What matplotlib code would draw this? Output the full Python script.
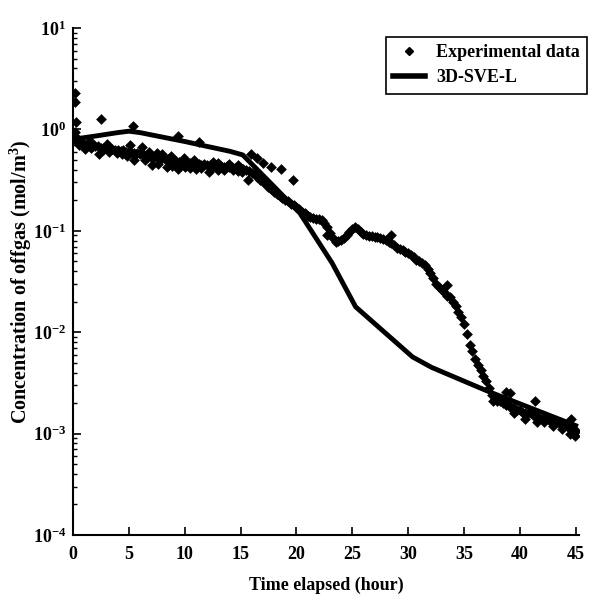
import numpy as np
import matplotlib
matplotlib.use("Agg")
import matplotlib.pyplot as plt
from matplotlib.lines import Line2D

plt.rcParams['font.family'] = ['Liberation Serif', 'DejaVu Serif']
plt.rcParams['font.weight'] = 'bold'
plt.rcParams['mathtext.fontset'] = 'custom'
plt.rcParams['mathtext.rm'] = 'Liberation Serif:bold'
plt.rcParams['mathtext.bf'] = 'Liberation Serif:bold'

# experimental data, main band (sampled every 0.25 h)
exp_time = np.arange(0, 45.01, 0.25)
exp_conc = [
    0.80, 0.76, 0.74, 0.73, 0.72, 0.71, 0.70, 0.69,
    0.68, 0.69, 0.66, 0.66, 0.65, 0.64, 0.64, 0.62,
    0.62, 0.61, 0.62, 0.60, 0.60, 0.59, 0.58, 0.58,
    0.57, 0.57, 0.55, 0.55, 0.54, 0.54, 0.53, 0.52,
    0.52, 0.51, 0.51, 0.50, 0.49, 0.49, 0.48, 0.48,
    0.47, 0.47, 0.47, 0.46, 0.46, 0.46, 0.45, 0.46,
    0.45, 0.45, 0.44, 0.45, 0.44, 0.44, 0.43, 0.44,
    0.43, 0.43, 0.42, 0.43, 0.42, 0.41, 0.40, 0.39,
    0.37, 0.36, 0.34, 0.32, 0.30, 0.29, 0.27, 0.26,
    0.24, 0.23, 0.22, 0.21, 0.20, 0.195, 0.185, 0.18,
    0.17, 0.165, 0.155, 0.15, 0.14, 0.138, 0.135, 0.132,
    0.13, 0.127, 0.12, 0.11, 0.095, 0.085, 0.078, 0.079,
    0.082, 0.085, 0.09, 0.098, 0.105, 0.11, 0.105, 0.098,
    0.093, 0.09, 0.088, 0.088, 0.087, 0.086, 0.085, 0.083,
    0.081, 0.078, 0.075, 0.072, 0.068, 0.066, 0.064, 0.062,
    0.060, 0.058, 0.055, 0.052, 0.050, 0.048, 0.046, 0.042,
    0.038, 0.034, 0.030, 0.028, 0.026, 0.025, 0.023, 0.022,
    0.020, 0.018, 0.016, 0.014, 0.012, 0.0095, 0.0075, 0.0065,
    0.0055, 0.0048, 0.0042, 0.0037, 0.0033, 0.0028, 0.0024, 0.0022,
    0.0021, 0.0021, 0.0020, 0.0019, 0.0019, 0.0018, 0.0018, 0.0017,
    0.0017, 0.0016, 0.0016, 0.0016, 0.0016, 0.0015, 0.0015, 0.0014,
    0.0014, 0.0014, 0.0014, 0.0013, 0.0013, 0.0013, 0.0013, 0.0012,
    0.0012, 0.0012, 0.0011, 0.0011, 0.00105,
]

# scattered experimental points off the main band
scat_time = [0.2, 0.2, 0.25, 0.2, 0.3, 2.5, 5.4, 9.4, 11.3,
             1.1, 2.3, 3.9, 4.8, 5.5, 7.1, 8.4, 9.4, 12.2, 15.1,
             0.5, 1.6, 3.2, 6.4, 10.5, 11.5, 13.5, 14.3,
             5.1, 6.2, 3.0, 1.5, 15.7,
             6.8, 7.5, 8.0, 8.8, 9.9, 10.8, 12.5, 13.0, 14.0, 14.8,
             7.6, 8.9, 10.0, 11.0, 13.0, 14.8, 2.7, 4.4,
             15.9, 16.5, 17.0, 17.7, 18.6, 19.7, 22.7, 28.5, 33.5,
             38.8, 39.1, 41.4, 44.6,
             37.6, 39.5, 40.5, 41.5, 42.2, 43.0, 43.8, 44.5, 44.9]
scat_conc = [2.3, 1.86, 1.18, 0.94, 0.85, 1.26, 1.07, 0.86, 0.75,
             0.64, 0.57, 0.58, 0.55, 0.50, 0.45, 0.43, 0.41, 0.38, 0.38,
             0.70, 0.66, 0.60, 0.50, 0.42, 0.42, 0.40, 0.40,
             0.70, 0.67, 0.72, 0.76, 0.32,
             0.60, 0.58, 0.57, 0.55, 0.52, 0.50, 0.48, 0.47, 0.46, 0.45,
             0.46, 0.44, 0.43, 0.41, 0.40, 0.39, 0.62, 0.57,
             0.57, 0.52, 0.47, 0.43, 0.41, 0.32, 0.091, 0.091, 0.029,
             0.0026, 0.0025, 0.0021, 0.0014,
             0.0021, 0.0016, 0.0014, 0.0013, 0.0013, 0.0012, 0.0011, 0.0010, 0.00094]

# 3D-SVE-L model
model_time = [0, 2, 4, 5, 6, 8, 10, 12, 14, 15.2, 17.9, 20.3, 23.2, 25.3,
              30.4, 32.1, 37.2, 45]
model_conc = [0.80, 0.86, 0.93, 0.96, 0.93, 0.84, 0.76, 0.68, 0.61, 0.56,
              0.28, 0.15, 0.048, 0.0178, 0.0057, 0.0045, 0.0026, 0.0012]

fig = plt.figure(figsize=(5.89, 6.05), dpi=100)
ax = fig.add_axes([0.124, 0.1157, 0.859, 0.838])

ax.plot(model_time, model_conc, color='black', lw=3.5, zorder=2)
ax.scatter(exp_time, exp_conc, marker='D', s=30, color='black', lw=0, zorder=3)
ax.scatter(scat_time, scat_conc, marker='D', s=30, color='black', lw=0, zorder=3)

ax.set_yscale('log')
ax.set_xlim(0, 45.3)
ax.set_ylim(1e-4, 10)
ax.set_xticks([0, 5, 10, 15, 20, 25, 30, 35, 40, 45])
ax.spines['top'].set_visible(False)
ax.spines['right'].set_visible(False)
ax.spines['left'].set_linewidth(1.5)
ax.spines['bottom'].set_linewidth(1.5)
ax.tick_params(axis='both', which='major', direction='in', length=6, width=1.2,
               labelsize=13)
ax.tick_params(axis='x', which='major', pad=8)
ax.tick_params(axis='y', which='major', pad=5)
ax.tick_params(axis='y', which='minor', direction='in', length=3, width=1)

ax.set_xlabel('Time elapsed (hour)', fontsize=13, fontweight='bold', labelpad=10)
ax.set_ylabel('Concentration of offgas (mol/m$^3$)', fontsize=14.5,
              fontweight='bold')
ax.yaxis.set_label_coords(-0.078, 0.5)

handles = [
    Line2D([], [], marker='D', ms=4, color='black', lw=0),
    Line2D([], [], color='black', lw=4),
]
leg = ax.legend(handles, ['Experimental data', '3D-SVE-L'], loc='upper right',
                bbox_to_anchor=(1.016, 0.982), borderaxespad=0, fontsize=13,
                fancybox=False, framealpha=1, edgecolor='black',
                handlelength=1.8, borderpad=0.4, labelspacing=0.45,
                handletextpad=0.6)
leg.get_frame().set_linewidth(1.2)

fig.savefig('out.png', dpi=100)
